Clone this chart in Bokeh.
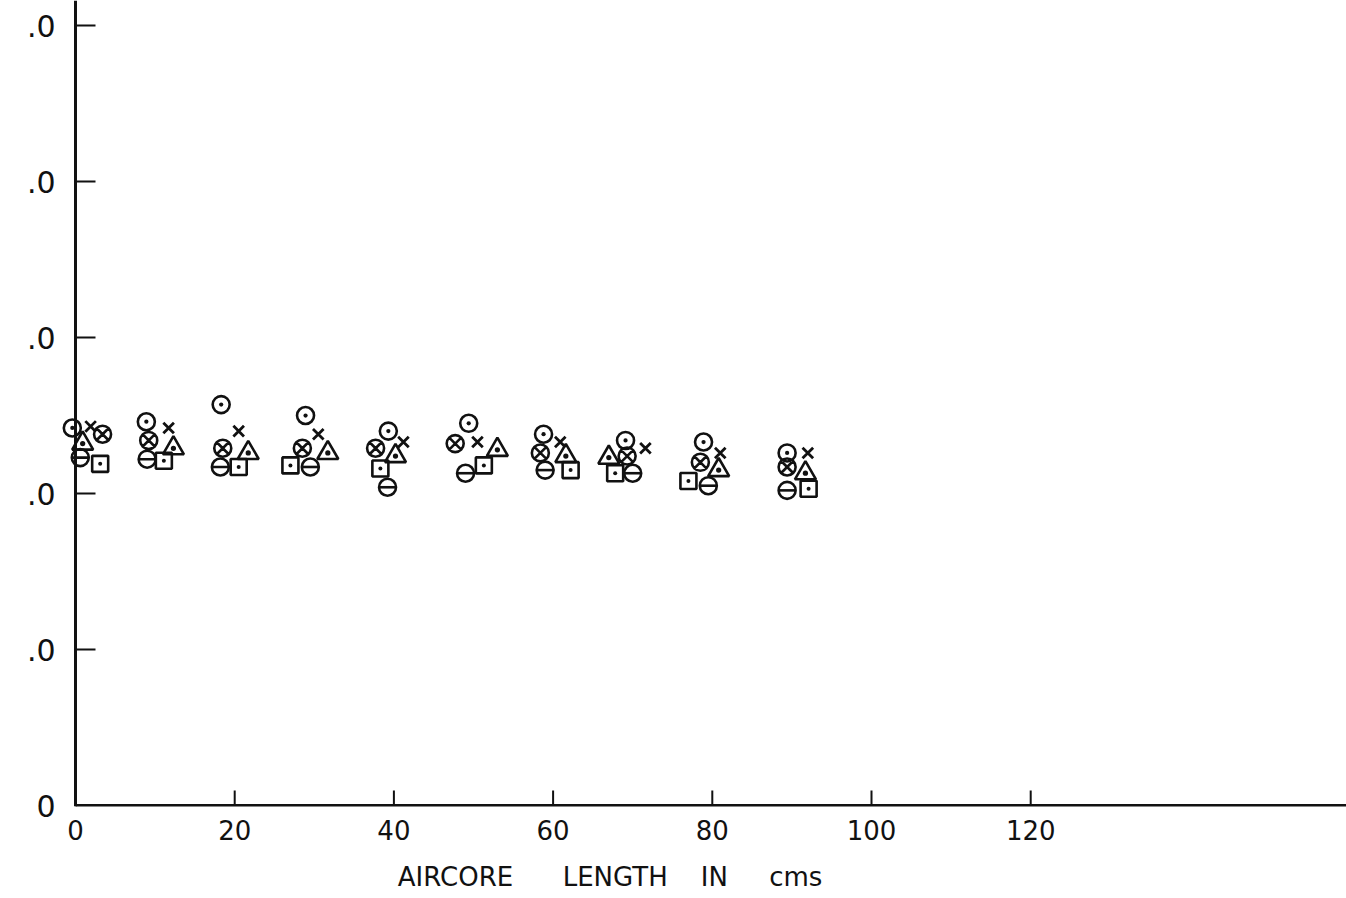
from bokeh.plotting import figure
from bokeh.models import Range1d, FixedTicker, Span
from bokeh.embed import file_html
from bokeh.resources import INLINE

# ---- data (y in axis units, x in cms) ----
dotcircle_x = [-0.4, 8.9, 18.3, 28.9, 39.3, 49.4, 58.8, 69.1, 78.9, 89.4]
dotcircle_y = [2.42, 2.46, 2.57, 2.50, 2.40, 2.45, 2.38, 2.34, 2.33, 2.26]

cross_x = [1.9, 11.7, 20.5, 30.5, 41.2, 50.5, 60.9, 71.6, 81.0, 92.0]
cross_y = [2.43, 2.42, 2.40, 2.38, 2.33, 2.33, 2.33, 2.29, 2.26, 2.26]

xcircle_x = [3.4, 9.2, 18.5, 28.5, 37.7, 47.7, 58.4, 69.3, 78.5, 89.4]
xcircle_y = [2.38, 2.34, 2.29, 2.29, 2.29, 2.32, 2.26, 2.24, 2.20, 2.17]

tri_x = [0.9, 12.3, 21.7, 31.7, 40.2, 53.0, 61.6, 67.0, 80.8, 91.7]
tri_y = [2.32, 2.29, 2.26, 2.26, 2.24, 2.28, 2.24, 2.23, 2.15, 2.13]

bar_x = [0.6, 9.0, 18.2, 29.5, 39.2, 49.0, 59.0, 70.0, 79.5, 89.4]
bar_y = [2.23, 2.22, 2.17, 2.17, 2.04, 2.13, 2.15, 2.13, 2.05, 2.02]

sq_x = [3.1, 11.1, 20.5, 27.0, 38.3, 51.3, 62.2, 67.8, 77.0, 92.1]
sq_y = [2.19, 2.21, 2.17, 2.18, 2.16, 2.18, 2.15, 2.13, 2.08, 2.03]

x_ticks = [0, 20, 40, 60, 80, 100, 120]
y_ticks = [0, 1, 2, 3, 4, 5]
y_tick_labels = ["0", ".0", ".0", ".0", ".0", ".0"]
NB = "\u00a0"
x_title = "AIRCORE" + NB * 5 + " LENGTH" + NB * 3 + " IN" + NB * 4 + " cms"

# ---- geometry ----
PXX = 7.96     # px per cm
PXY = 156.0    # px per y unit
BOTTOM = 92
x0 = -20 / PXX
frame_w = 1346 - 55
frame_h = 898 - BOTTOM
y0 = -1 / PXY

p = figure(width=1346, height=898, output_backend="svg", toolbar_location=None,
           x_range=Range1d(x0, x0 + frame_w / PXX),
           y_range=Range1d(y0, y0 + frame_h / PXY),
           min_border_left=55, min_border_right=0, min_border_top=0,
           min_border_bottom=BOTTOM)
p.outline_line_color = None
p.grid.visible = False
p.background_fill_color = "white"
p.border_fill_color = "white"

ink = "#111111"
font = "DejaVu Sans"

# axes: keep labels, draw lines/ticks separately so the axis corner sits at (0,0)
p.xaxis.ticker = FixedTicker(ticks=x_ticks)
p.xaxis.axis_line_color = None
p.xaxis.major_tick_line_color = None
p.xaxis.minor_tick_line_color = None
p.xaxis.major_tick_out = 0
p.xaxis.major_tick_in = 0
p.xaxis.major_label_standoff = 13
p.xaxis.major_label_text_font = font
p.xaxis.major_label_text_font_size = "26px"
p.xaxis.major_label_text_color = ink
# axis title: trailing no-break spaces shift its visible part left of the frame centre
p.xaxis.axis_label = x_title + NB * 22
p.xaxis.axis_label_standoff = 19
p.xaxis.axis_label_text_font = font
p.xaxis.axis_label_text_font_size = "26px"
p.xaxis.axis_label_text_font_style = "normal"
p.xaxis.axis_label_text_color = ink

p.yaxis.ticker = FixedTicker(ticks=y_ticks)
p.yaxis.major_label_overrides = {t: l for t, l in zip(y_ticks, y_tick_labels)}
p.yaxis.axis_line_color = None
p.yaxis.major_tick_line_color = None
p.yaxis.minor_tick_line_color = None
p.yaxis.major_tick_out = 0
p.yaxis.major_tick_in = 0
p.yaxis.major_label_standoff = 0
p.yaxis.major_label_text_font = font
p.yaxis.major_label_text_font_size = "30px"
p.yaxis.major_label_text_color = ink

p.add_layout(Span(location=0, dimension="height", line_color=ink, line_width=3))
p.ray(x=[0], y=[0], length=0, angle=0, line_color=ink, line_width=3)

xt = [t for t in x_ticks if t > 0]
p.segment(x0=xt, y0=[0] * len(xt), x1=xt, y1=[15 / PXY] * len(xt),
          line_color=ink, line_width=2)
yt = [t for t in y_ticks if t > 0]
p.segment(x0=[0] * len(yt), y0=yt, x1=[20 / PXX] * len(yt), y1=yt,
          line_color=ink, line_width=2)

# ---- markers ----
lw = 2.6
p.scatter(dotcircle_x, dotcircle_y, marker="circle_dot", size=17,
          line_color=ink, fill_color=None, line_width=lw)
p.scatter(cross_x, cross_y, marker="x", size=15,
          line_color=ink, line_width=2.8)
p.scatter(xcircle_x, xcircle_y, marker="circle_x", size=17,
          line_color=ink, fill_color=None, line_width=lw)
p.scatter(tri_x, tri_y, marker="triangle_dot", size=21,
          line_color=ink, fill_color=None, line_width=lw)
p.scatter(bar_x, bar_y, marker="circle", size=17,
          line_color=ink, fill_color=None, line_width=lw)
p.scatter(bar_x, bar_y, marker="dash", size=17,
          line_color=ink, line_width=lw)
p.scatter(sq_x, sq_y, marker="square_dot", size=16,
          line_color=ink, fill_color=None, line_width=lw)

open("out.html", "w").write(file_html(p, INLINE))
